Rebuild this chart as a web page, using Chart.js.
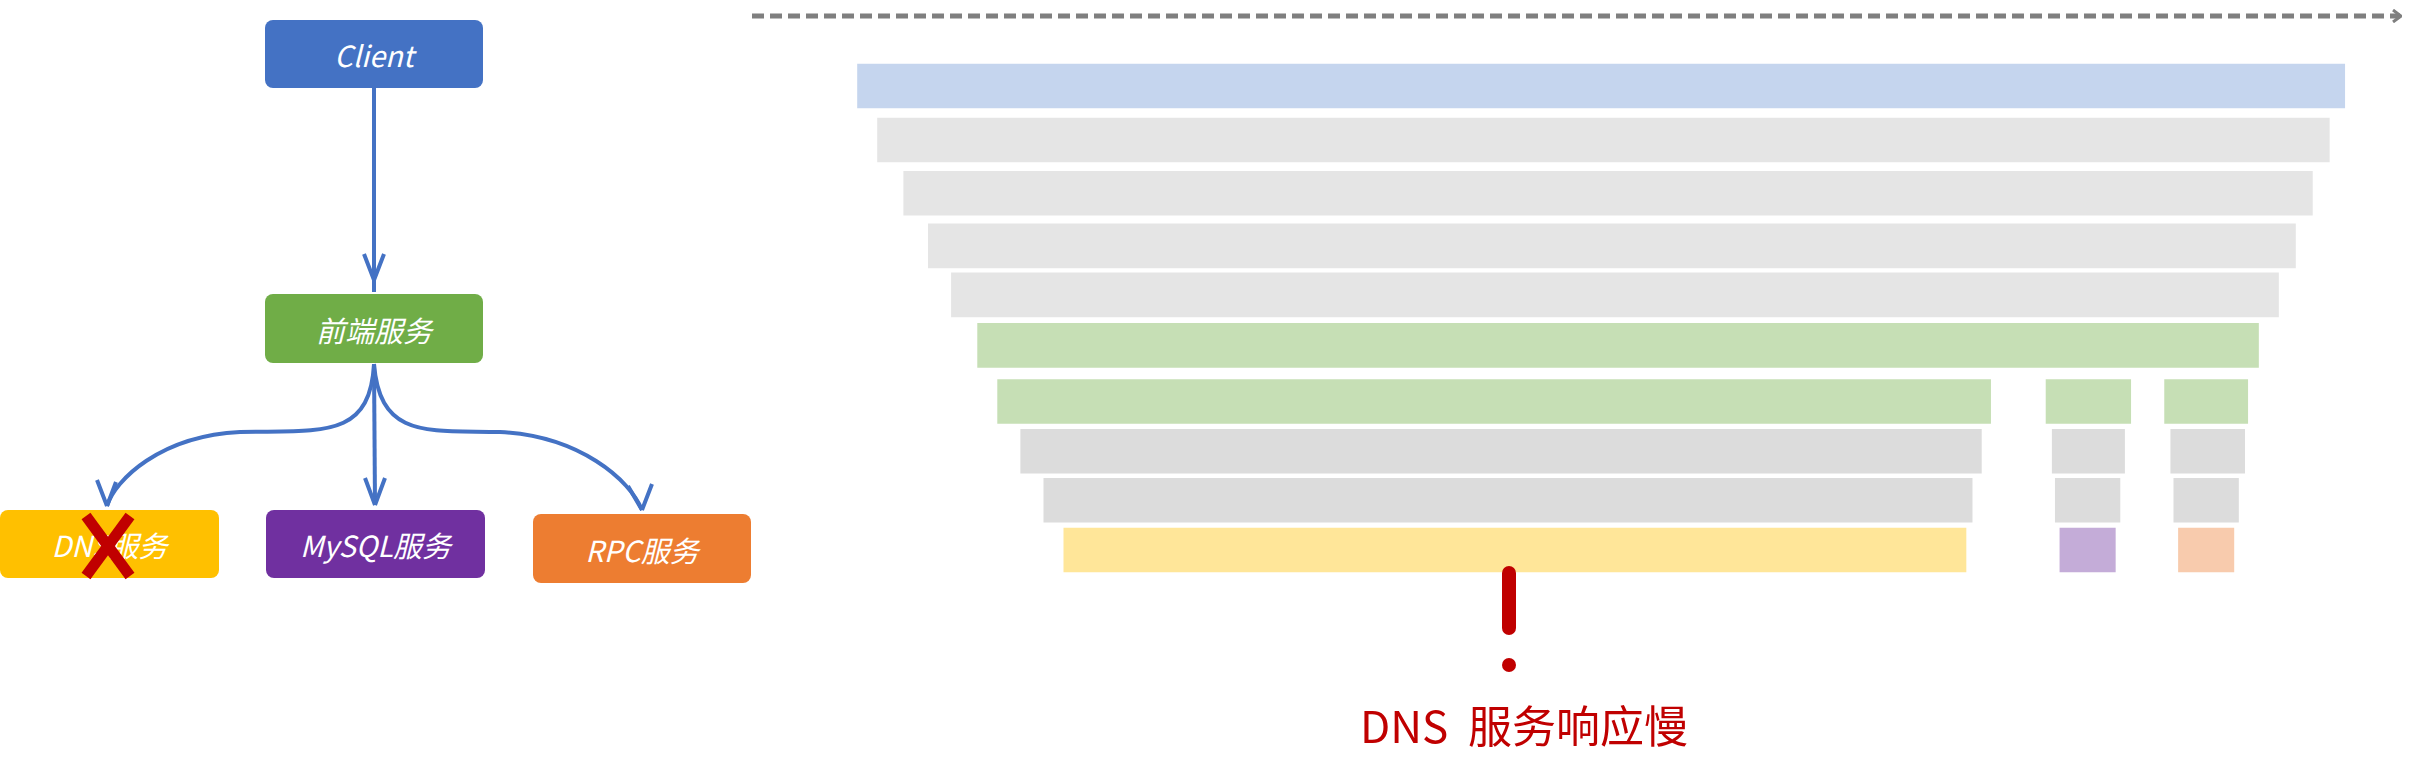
<!DOCTYPE html>
<html>
<head>
<meta charset="utf-8">
<script src="https://cdn.jsdelivr.net/npm/chart.js@4"></script>
<style>
  body { margin: 0; width: 2414px; height: 766px; background: #fff; position: relative; overflow: hidden;
         font-family: "Noto Sans CJK SC", "Noto Sans", sans-serif; }
  #chartBox { position: absolute; left: 0; top: 0; width: 2414px; height: 766px; }
  svg { position: absolute; left: 0; top: 0; }
  .node { position: absolute; color: #fff; font-style: italic; font-size: 29px; display: flex;
          align-items: center; justify-content: center; border-radius: 8px; }
  .warn { position: absolute; color: #c00000; font-size: 44px; left: 1324px; top: 692px; width: 400px; text-align: center; }
</style>
</head>
<body>
<div id="chartBox"><canvas id="traceChart"></canvas></div>

<svg width="2414" height="766">
  <defs>
    <marker id="dash" markerWidth="10" markerHeight="14" refX="8" refY="7" orient="auto" markerUnits="userSpaceOnUse">
      <path d="M1,1 L9,7 L1,13" fill="none" stroke="#7f7f7f" stroke-width="3"/>
    </marker>
    <marker id="arr" markerWidth="20" markerHeight="24" refX="10" refY="20" orient="auto-start-reverse" markerUnits="userSpaceOnUse">
      <path d="M2,0 L10,20 L18,0" fill="none" stroke="#4472c4" stroke-width="4"/>
    </marker>
  </defs>
  <line x1="752" y1="16" x2="2400" y2="16" stroke="#7f7f7f" stroke-width="5" stroke-dasharray="12,6" marker-end="url(#dash)"/>
  <g fill="none" stroke="#4472c4" stroke-width="4">
    <path d="M374,88 L374,292"/>
    <path d="M374,364 L375,505"/>
    <path d="M374,364 C370,440 320,430 240,432 C160,436 115,480 107,506"/>
    <path d="M374,364 C380,440 430,430 500,432 C580,436 630,480 642,510"/>
    <path d="M374,280 L364,254 M374,280 L384,254"/>
    <path d="M375,505 L365,478 M375,505 L385,478"/>
    <path d="M107,506 L97,480 M107,506 L116,482"/>
    <path d="M642,510 L628,486 M642,510 L652,484"/>
  </g>
  <g stroke="#c00000" stroke-linecap="round">
    <line x1="1509" y1="573" x2="1509" y2="628" stroke-width="14"/>
    <circle cx="1509" cy="665" r="7" fill="#c00000" stroke="none"/>
  </g>
</svg>

<div class="node" style="left:265px;top:20px;width:218px;height:68px;background:#4472c4">Client</div>
<div class="node" style="left:265px;top:294px;width:218px;height:69px;background:#70ad47">前端服务</div>
<div class="node" style="left:0px;top:510px;width:219px;height:68px;background:#ffc000">DNS服务</div>
<div class="node" style="left:266px;top:510px;width:219px;height:68px;background:#7030a0">MySQL服务</div>
<div class="node" style="left:533px;top:514px;width:218px;height:69px;background:#ed7d31">RPC服务</div>
<svg width="2414" height="766">
  <g stroke="#c00000" stroke-width="11">
    <line x1="86" y1="516" x2="130" y2="576"/>
    <line x1="130" y1="516" x2="86" y2="576"/>
  </g>
</svg>
<div class="warn">DNS&nbsp; 服务响应慢</div>

<script>
// trace rows, positions in timeline units (0..1568 across the page)
const rowY = [36, 74, 111.5, 148.5, 183, 218.5, 258, 293, 327.5, 362.5];

const blueSpans = [[557, 1523]];
const blueRows = [0];
const graySpans = [[570, 1513], [587, 1502], [603, 1491], [618, 1480]];
const grayRows = [1, 2, 3, 4];
const greenSpans = [[635, 1467], [648, 1293], [1329, 1384], [1406, 1460]];
const greenRows = [5, 6, 6, 6];
const darkGraySpans = [[663, 1287], [1333, 1380], [1410, 1458], [678, 1281], [1335, 1377], [1412, 1454]];
const darkGrayRows = [7, 7, 7, 8, 8, 8];
const yellowSpans = [[691, 1277]];
const purpleSpans = [[1338, 1374]];
const peachSpans = [[1415, 1451]];
const lastRow = [9];

function points(spans, rows) {
  return spans.map((s, i) => ({ x: s, y: rowY[rows[i]] }));
}

function ds(spans, rows, color) {
  return {
    data: points(spans, rows),
    backgroundColor: color,
    borderWidth: 0,
    barThickness: 44,
    grouped: false,
  };
}

const traceCtx = document.getElementById("traceChart").getContext("2d");
new Chart(traceCtx, {
  type: "bar",
  data: {
    datasets: [
      ds(blueSpans, blueRows, "#c5d5ee"),
      ds(graySpans, grayRows, "#e5e5e5"),
      ds(greenSpans, greenRows, "#c6dfb5"),
      ds(darkGraySpans, darkGrayRows, "#dcdcdc"),
      ds(yellowSpans, lastRow, "#ffe699"),
      ds(purpleSpans, lastRow, "#c4acd8"),
      ds(peachSpans, lastRow, "#f8cbad"),
    ],
  },
  options: {
    indexAxis: "y",
    responsive: true,
    maintainAspectRatio: false,
    animation: false,
    layout: { padding: 0 },
    plugins: { legend: { display: false }, tooltip: { enabled: false } },
    scales: {
      x: { type: "linear", min: 0, max: 1568, display: false },
      y: { type: "linear", min: 0, max: 490, reverse: true, display: false },
    },
  },
});
</script>
</body>
</html>
